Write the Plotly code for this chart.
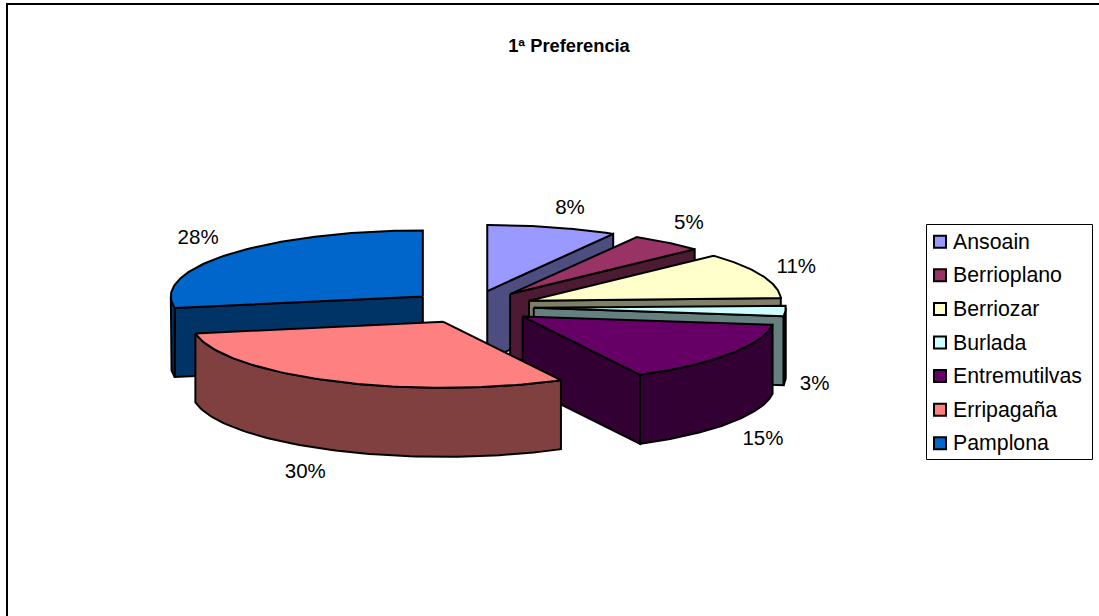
import numpy as np
import plotly.graph_objects as go

# ---- data ----
categories = ["Ansoain", "Berrioplano", "Berriozar", "Burlada", "Entremutilvas", "Erripagaña", "Pamplona"]
values = [8.33, 4.75, 11.3, 2.65, 15.25, 29.9, 27.82]
top_colors = ["#9999FF", "#993366", "#FFFFCC", "#CCFFFF", "#660066", "#FF8080", "#0066CC"]
side_colors = ["#4D4D80", "#4D1A33", "#808066", "#668080", "#330033", "#804040", "#003366"]
title_text = "<b>1ª Preferencia</b>"

# ---- projection of the exploded 3-D pie onto the hidden axes ----
W, H = 1099, 616
CX, CY = 471.0, 307.0
RX, RY = 252.0, 66.0
EX, EY = 62.8, 16.5
DEPTH = 69.0
LABEL_RX, LABEL_RY, LABEL_DROP = 348.0, 105.0, 70.0
LABEL_NUDGE = [(9, 3), (1, -1), (4, 1), (-4, 3), (6, 3), (-13, 2), (-6, -1)]
FONT = "Liberation Sans, Arial, sans-serif"


def rim(apex, deg):
    t = np.radians(deg)
    return apex[0] + RX * np.sin(t), apex[1] - RY * np.cos(t)


def poly_trace(xs, ys, color):
    xs, ys = list(xs), list(ys)
    return go.Scatter(x=xs + xs[:1], y=ys + ys[:1], mode="lines", fill="toself", fillcolor=color,
                      line=dict(color="black", width=2), hoverinfo="skip", showlegend=False)


total = sum(values)
bounds = np.cumsum([0] + values) / total * 360
slices = []
for i, name in enumerate(categories):
    a0, a1 = bounds[i], bounds[i + 1]
    mid = np.radians((a0 + a1) / 2)
    apex = (CX + EX * np.sin(mid), CY - EY * np.cos(mid))
    slices.append((i, a0, a1, mid, apex))

fig = go.Figure()
draw_order = [6, 0, 1, 2, 3, 4, 5]
for i in draw_order:
    _, a0, a1, mid, apex = slices[i]
    side, top = side_colors[i], top_colors[i]
    # radial faces that look toward the viewer
    for deg, is_end in ((a0, False), (a1, True)):
        s = np.sin(np.radians(deg))
        if (is_end and s > 0) or (not is_end and s < 0):
            rx_, ry_ = rim(apex, deg)
            fig.add_trace(poly_trace(
                [apex[0], rx_, rx_, apex[0]],
                [apex[1], ry_, ry_ + DEPTH, apex[1] + DEPTH], side))
    # outer curved face
    lo, hi = max(a0, 90), min(a1, 270)
    if hi > lo:
        arc = np.linspace(lo, hi, 80)
        px, py = rim(apex, arc)
        fig.add_trace(poly_trace(np.r_[px, px[::-1]], np.r_[py, (py + DEPTH)[::-1]], side))
    # top face
    arc = np.linspace(a0, a1, 80)
    px, py = rim(apex, arc)
    fig.add_trace(poly_trace(np.r_[apex[0], px], np.r_[apex[1], py], top))

# percentage labels
lx, ly, lt = [], [], []
for i, a0, a1, mid, apex in slices:
    c = np.cos(mid)
    lx.append(CX + LABEL_RX * np.sin(mid) + LABEL_NUDGE[i][0])
    ly.append(CY - LABEL_RY * c + (LABEL_DROP if c < 0 else 0) + LABEL_NUDGE[i][1])
    lt.append(f"{round(values[i] / total * 100)}%")
fig.add_trace(go.Scatter(x=lx, y=ly, text=lt, mode="text", textposition="middle center",
                         textfont=dict(family=FONT, size=20.5, color="black"),
                         hoverinfo="skip", showlegend=False))

# legend
LEG_X, LEG_Y, LEG_STEP = 940.0, 241.7, 33.6
for i, name in enumerate(categories):
    y = LEG_Y + i * LEG_STEP
    fig.add_trace(go.Scatter(x=[LEG_X], y=[y], mode="markers", name=name,
                             marker=dict(symbol="square", size=12, color=top_colors[i],
                                         line=dict(color="black", width=2)),
                             hoverinfo="skip", showlegend=False))
    fig.add_annotation(x=LEG_X + 11, y=y, text=name, showarrow=False, xanchor="left", yanchor="middle",
                       font=dict(family=FONT, size=21.3, color="black"))

fig.update_layout(
    width=W, height=H, autosize=False,
    margin=dict(l=0, r=0, t=0, b=0),
    paper_bgcolor="white", plot_bgcolor="white",
    showlegend=False,
    title=dict(text=title_text, x=569 / W, y=1 - 46 / H, xanchor="center", yanchor="middle",
               font=dict(family=FONT, size=18.3, color="black")),
    xaxis=dict(range=[0, W], visible=False, fixedrange=True),
    yaxis=dict(range=[H, 0], visible=False, fixedrange=True),
    shapes=[
        dict(type="rect", xref="x", yref="y", x0=7, y0=4, x1=W + 20, y1=H + 20,
             line=dict(color="black", width=2), layer="below"),
        dict(type="rect", xref="x", yref="y", x0=926.5, y0=224.5, x1=1092.5, y1=459.5,
             line=dict(color="black", width=1), fillcolor="white", layer="below"),
    ],
)

fig.write_html("out.html", config=dict(displayModeBar=False),
               post_script="document.body.style.margin='0';document.body.style.overflow='hidden';")
